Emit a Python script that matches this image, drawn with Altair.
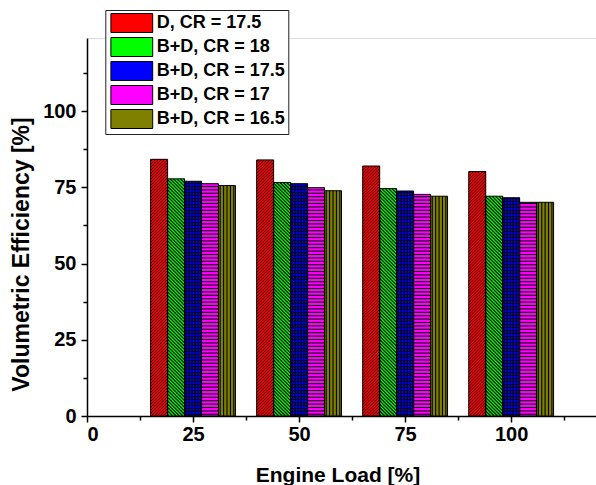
import altair as alt
import pandas as pd

# ---- data ----
loads = [25, 50, 75, 100]
series = ["D, CR = 17.5", "B+D, CR = 18", "B+D, CR = 17.5", "B+D, CR = 17", "B+D, CR = 16.5"]
d_cr175 = [84.2, 84.0, 82.0, 80.2]
bd_cr18 = [77.8, 76.6, 74.6, 72.1]
bd_cr175 = [77.0, 76.2, 73.8, 71.6]
bd_cr17 = [76.2, 74.9, 72.7, 70.1]
bd_cr165 = [75.6, 73.9, 72.1, 70.1]
colors = ["#FF0000", "#00FF00", "#0000FF", "#FF00FF", "#808000"]
x_ticks = [0, 25, 50, 75, 100]
x_minor = [12.5, 37.5, 62.5, 87.5, 112.5]
y_ticks = [0, 25, 50, 75, 100]
y_minor = [12.5, 37.5, 62.5, 87.5, 112.5]

rows = []
for i, (name, vals) in enumerate(zip(series, [d_cr175, bd_cr18, bd_cr175, bd_cr17, bd_cr165])):
    for load, v in zip(loads, vals):
        rows.append({"load": load, "series": name, "idx": i, "value": v})
df = pd.DataFrame(rows)

FONT = "Liberation Sans"
W, H = 509, 378
XMAX, YMAX = 120, 124
KX, KY = W / XMAX, H / YMAX  # px per unit
BAR_W = 4.0

xscale = alt.Scale(domain=[0, XMAX], nice=False, zero=False)
yscale = alt.Scale(domain=[0, YMAX], nice=False)

axis_common = dict(
    domainColor="black", domainWidth=1.5, tickColor="black", tickWidth=1.5,
    labelFont=FONT, labelFontSize=20, labelFontWeight="bold", labelColor="black",
    grid=False, titleFont=FONT, titleFontWeight="bold", titleColor="black",
)

x_axis = alt.Axis(
    values=x_ticks, tickSize=6, labelPadding=2, format="d",
    title="Engine Load [%]", titleFontSize=21, titleX=250.5, titleY=65,
    titleBaseline="alphabetic", titleAlign="center", orient="bottom", **axis_common,
)
y_axis = alt.Axis(
    values=y_ticks, tickSize=6, labelPadding=5, format="d",
    title="Volumetric Efficiency [%]", titleFontSize=23, titleX=-65.5, titleY=216,
    titleAngle=270, titleBaseline="middle", titleAlign="center", orient="left", **axis_common,
)
x_minor_axis = alt.Axis(values=x_minor, tickSize=4, labels=False, domain=False, title=None,
                        tickColor="black", tickWidth=1.5, grid=False, orient="bottom")
y_minor_axis = alt.Axis(values=y_minor, tickSize=4, labels=False, domain=False, title=None,
                        tickColor="black", tickWidth=1.5, grid=False, orient="left")

base = alt.Chart(df).transform_calculate(
    x0=f"datum.load - 10 + {BAR_W} * datum.idx",
    x1=f"datum.load - 10 + {BAR_W} * datum.idx + {BAR_W}",
)

legend = alt.Legend(
    title=None, orient="none", legendX=18.3, legendY=-28,
    symbolType="M-2.2,-1H2.2V1H-2.2Z", symbolSize=361,
    symbolStrokeColor="black", symbolStrokeWidth=1, symbolOpacity=1,
    symbolOffset=13.5, labelOffset=15,
    labelFont=FONT, labelFontSize=18, labelFontWeight="bold", labelColor="black",
    labelLimit=400, labelBaseline="middle",
    strokeColor="#222222", fillColor="white", padding=3, rowPadding=0,
)

bars = base.mark_bar(strokeWidth=0).encode(
    x=alt.X("x0:Q", scale=xscale, axis=x_axis),
    x2="x1:Q",
    y=alt.Y("value:Q", scale=yscale, axis=y_axis),
    y2=alt.datum(0),
    fill=alt.Fill("series:N", scale=alt.Scale(domain=series, range=colors), legend=legend, sort=series),
)


def hlines(name, spacing_px, width):
    s = spacing_px / KY
    return base.transform_filter(alt.datum.series == name).transform_calculate(
        hy=f"sequence({s / 2}, datum.value, {s})"
    ).transform_flatten(["hy"]).mark_rule(color="black", strokeWidth=width).encode(
        x=alt.X("x0:Q", scale=xscale, axis=None),
        x2="x1:Q",
        y=alt.Y("hy:Q", scale=yscale, axis=None),
    )


def vlines(name, spacing_px, width):
    s = spacing_px / KX
    return base.transform_filter(alt.datum.series == name).transform_calculate(
        vx=f"sequence(datum.x0 + {s / 2}, datum.x1, {s})"
    ).transform_flatten(["vx"]).mark_rule(color="black", strokeWidth=width).encode(
        x=alt.X("vx:Q", scale=xscale, axis=None),
        y=alt.Y("value:Q", scale=yscale, axis=None),
        y2=alt.datum(0),
    )


def dlines(name, spacing_px, width, forward=True):
    r = BAR_W * KX / KY          # rise (y units) of a 45 deg line across a bar
    s = spacing_px / KY          # vertical spacing (y units)
    q = BAR_W / r
    c = base.transform_filter(alt.datum.series == name).transform_calculate(
        b=f"sequence({-r + s / 2}, datum.value, {s})"
    ).transform_flatten(["b"])
    if forward:  # "/" : low at left edge, high at right edge
        c = c.transform_calculate(
            xa=f"datum.b < 0 ? datum.x0 - datum.b * {q} : datum.x0",
            ya="max(datum.b, 0)",
            xb=f"datum.b + {r} > datum.value ? datum.x0 + (datum.value - datum.b) * {q} : datum.x1",
            yb=f"min(datum.b + {r}, datum.value)",
        )
    else:  # "\" : high at left edge, low at right edge
        c = c.transform_calculate(
            xb=f"datum.b < 0 ? datum.x1 + datum.b * {q} : datum.x1",
            yb="max(datum.b, 0)",
            xa=f"datum.b + {r} > datum.value ? datum.x1 - (datum.value - datum.b) * {q} : datum.x0",
            ya=f"min(datum.b + {r}, datum.value)",
        )
    return c.mark_rule(color="black", strokeWidth=width).encode(
        x=alt.X("xa:Q", scale=xscale, axis=None),
        x2="xb:Q",
        y=alt.Y("ya:Q", scale=yscale, axis=None),
        y2="yb:Q",
    )


layers = [
    bars,
    dlines(series[0], 3.0, 0.9, True),
    dlines(series[1], 3.4, 1.15, False),
    hlines(series[2], 3.0, 1.0),
    vlines(series[2], 3.0, 1.0),
    hlines(series[3], 3.4, 1.1),
    vlines(series[4], 3.4, 1.1),
    base.mark_bar(fillOpacity=0, stroke="black", strokeWidth=1).encode(
        x=alt.X("x0:Q", scale=xscale, axis=x_minor_axis),
        x2="x1:Q",
        y=alt.Y("value:Q", scale=yscale, axis=y_minor_axis),
        y2=alt.datum(0),
    ),
]

chart = alt.layer(*layers).resolve_axis(x="independent", y="independent").properties(
    width=W, height=H,
    autosize=alt.AutoSizeParams(type="none"),
    padding={"left": 87, "top": 38, "right": 0, "bottom": 69},
).configure_view(stroke=None).configure(background="white")

chart.save("out.html", embed_options={"renderer": "svg", "actions": False})
